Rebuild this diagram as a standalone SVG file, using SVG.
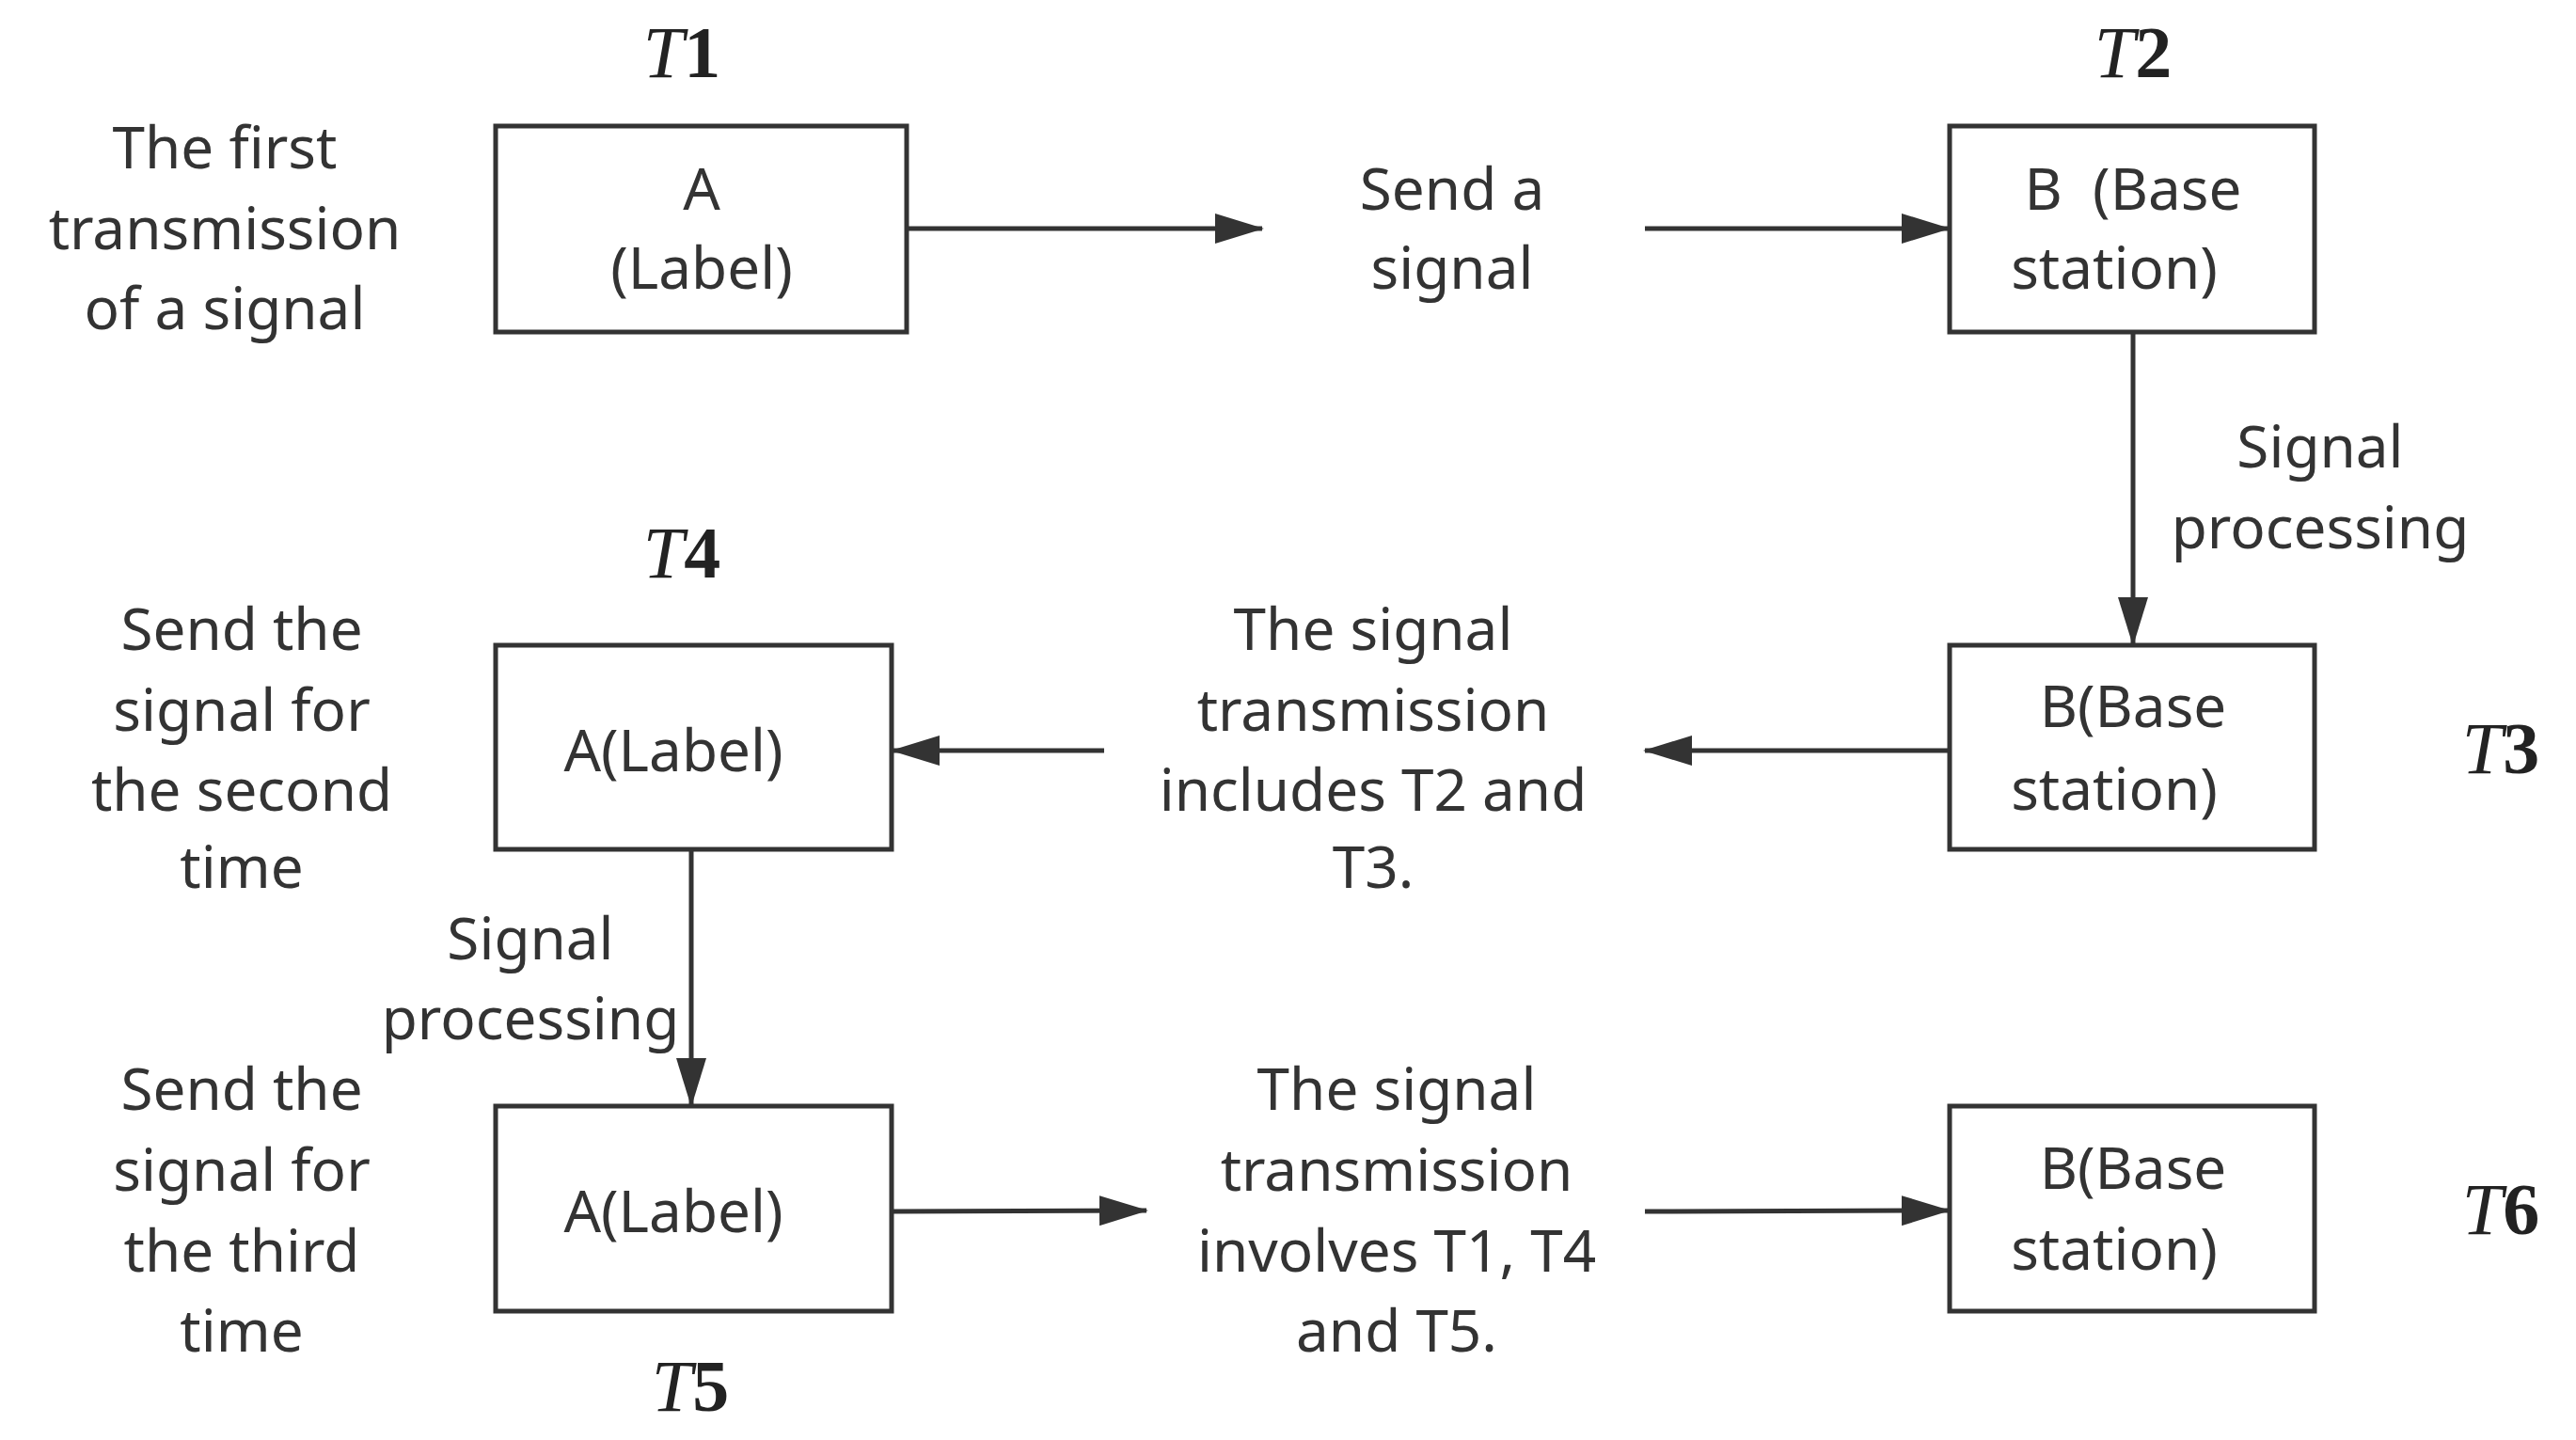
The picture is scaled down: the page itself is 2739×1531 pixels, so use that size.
<svg xmlns="http://www.w3.org/2000/svg" width="2739" height="1531" viewBox="0 0 2739 1531">
<style>
.t{font-family:"Noto Sans","Open Sans",sans-serif;font-size:62px;fill:#333;text-anchor:middle}
.m{font-family:"Liberation Serif",serif;font-size:78px;fill:#222;text-anchor:middle}
.b{fill:#fff;stroke:#333;stroke-width:5}
.c{stroke:#333;stroke-width:5;fill:none;marker-end:url(#ah)}
</style>
<defs><marker id="ah" markerUnits="userSpaceOnUse" markerWidth="52" markerHeight="32" refX="50" refY="16" orient="auto"><path d="M0,0 L52,16 L0,32 Z" fill="#333"/></marker></defs>
<rect width="2739" height="1531" fill="#fff"/>
<g id="n1"><rect class="b" x="527" y="134" width="437" height="219"/><text class="t" x="746" y="223">A</text><text class="t" x="746" y="307">(Label)</text></g>
<g id="n2"><rect class="b" x="2073" y="134" width="388" height="219"/><text class="t" x="2268" y="223" xml:space="preserve">B  (Base</text><text class="t" x="2248" y="307">station)</text></g>
<g id="n3"><rect class="b" x="2073" y="686" width="388" height="217"/><text class="t" x="2268" y="773">B(Base</text><text class="t" x="2248" y="861">station)</text></g>
<g id="n4"><rect class="b" x="527" y="686" width="421" height="217"/><text class="t" x="716" y="820">A(Label)</text></g>
<g id="n5"><rect class="b" x="527" y="1176" width="421" height="218"/><text class="t" x="716" y="1310">A(Label)</text></g>
<g id="n6"><rect class="b" x="2073" y="1176" width="388" height="218"/><text class="t" x="2268" y="1264">B(Base</text><text class="t" x="2248" y="1350">station)</text></g>
<g id="connectors">
<line class="c" x1="964" y1="243" x2="1342" y2="243"/>
<line class="c" x1="1749" y1="243" x2="2072" y2="243"/>
<line class="c" x1="2268" y1="353" x2="2268" y2="685"/>
<line class="c" x1="2073" y1="798" x2="1749" y2="798"/>
<line class="c" x1="1174" y1="798" x2="949" y2="798"/>
<line class="c" x1="735" y1="903" x2="735" y2="1175"/>
<line class="c" x1="948" y1="1288" x2="1219" y2="1287"/>
<line class="c" x1="1749" y1="1288" x2="2072" y2="1287"/>
</g>
<g id="labels">
<text class="t" x="239" y="179">The first</text><text class="t" x="239" y="265">transmission</text><text class="t" x="239" y="350">of a signal</text>
<text class="t" x="1544" y="223">Send a</text><text class="t" x="1544" y="307">signal</text>
<text class="t" x="2467" y="497">Signal</text><text class="t" x="2467" y="583">processing</text>
<text class="t" x="1460" y="691">The signal</text><text class="t" x="1460" y="777">transmission</text><text class="t" x="1460" y="862">includes T2 and</text><text class="t" x="1460" y="944">T3.</text>
<text class="t" x="257" y="691">Send the</text><text class="t" x="257" y="777">signal for</text><text class="t" x="257" y="862">the second</text><text class="t" x="257" y="944">time</text>
<text class="t" x="564" y="1020">Signal</text><text class="t" x="564" y="1105">processing</text>
<text class="t" x="257" y="1180">Send the</text><text class="t" x="257" y="1266">signal for</text><text class="t" x="257" y="1352">the third</text><text class="t" x="257" y="1437">time</text>
<text class="t" x="1485" y="1180">The signal</text><text class="t" x="1485" y="1266">transmission</text><text class="t" x="1485" y="1352">involves T1, T4</text><text class="t" x="1485" y="1437">and T5.</text>
<text class="m" x="725" y="82"><tspan font-style="italic">T</tspan><tspan font-weight="bold">1</tspan></text>
<text class="m" x="2268" y="82"><tspan font-style="italic">T</tspan><tspan font-weight="bold">2</tspan></text>
<text class="m" x="725" y="614"><tspan font-style="italic">T</tspan><tspan font-weight="bold">4</tspan></text>
<text class="m" x="2659" y="822"><tspan font-style="italic">T</tspan><tspan font-weight="bold">3</tspan></text>
<text class="m" x="2659" y="1312"><tspan font-style="italic">T</tspan><tspan font-weight="bold">6</tspan></text>
<text class="m" x="734" y="1500"><tspan font-style="italic">T</tspan><tspan font-weight="bold">5</tspan></text>
</g>
</svg>
